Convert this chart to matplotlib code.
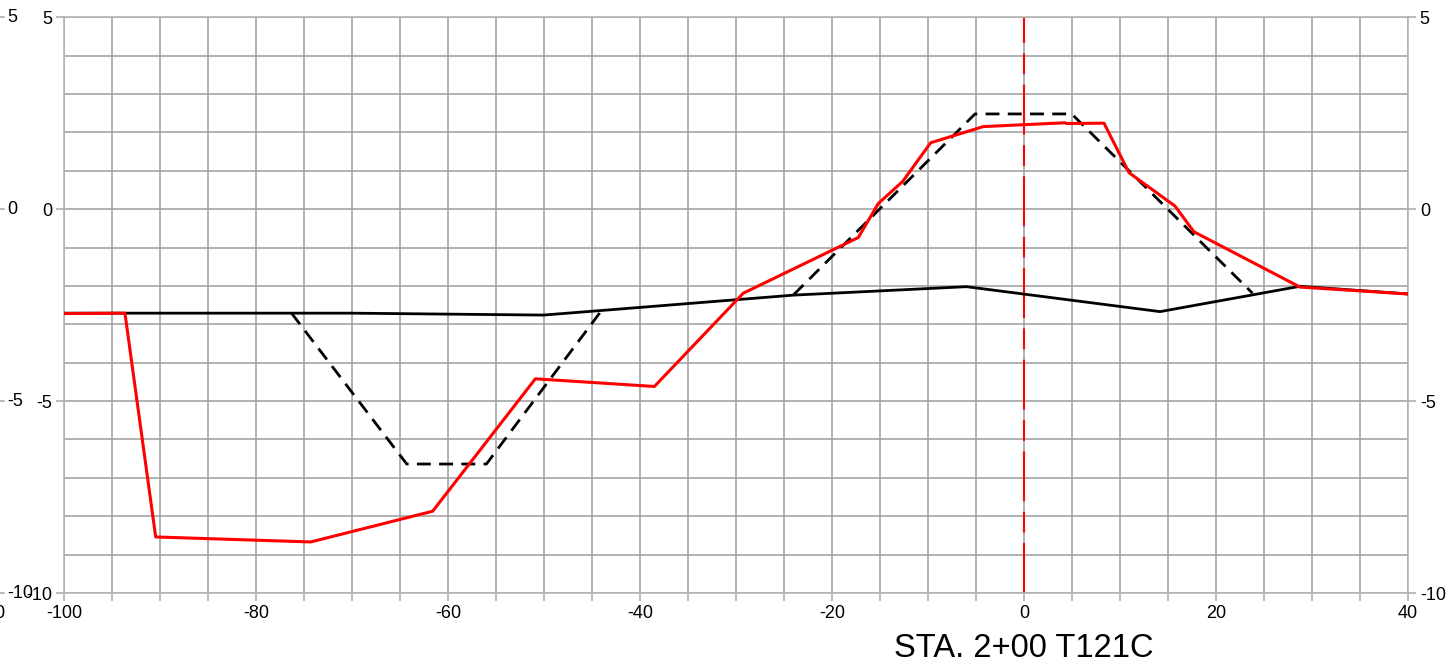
import matplotlib
matplotlib.use('Agg')
import matplotlib.pyplot as plt
from matplotlib.ticker import MultipleLocator, FixedLocator
import matplotlib.transforms as mtrans
from matplotlib.lines import Line2D

plt.rcParams['font.family'] = ['Liberation Sans', 'DejaVu Sans']
plt.rcParams['axes.unicode_minus'] = False

# Existing ground (solid black)
ground_x = [-100, -70, -50.07, -44.0, -24.0, -6.0, 14.17, 28.75, 40]
ground_y = [-2.71, -2.71, -2.76, -2.64, -2.24, -2.02, -2.67, -2.01, -2.21]

# Design section (dashed black), two pieces
design1_x = [-76.3, -64.3, -56.0, -44.0]
design1_y = [-2.71, -6.64, -6.64, -2.64]
design2_x = [-24.0, -5.1, 4.97, 23.8]
design2_y = [-2.23, 2.48, 2.48, -2.19]

# Surveyed section (red)
survey_x = [-100, -93.65, -90.45, -74.3, -61.6, -50.9, -38.5, -29.24, -17.26,
            -15.17, -12.64, -9.72, -4.24, 4.27, 4.45, 8.33, 10.94, 15.73, 17.7,
            28.75, 40]
survey_y = [-2.72, -2.71, -8.54, -8.67, -7.87, -4.42, -4.62, -2.19, -0.74,
            0.15, 0.72, 1.73, 2.15, 2.25, 2.23, 2.24, 0.95, 0.08, -0.59,
            -2.03, -2.21]

x_ticks = [-100, -80, -60, -40, -20, 0, 20, 40]
y_ticks = [-10, -5, 0, 5]
title = 'STA. 2+00 T121C'
centerline_x = 0

W, H = 1450, 662
fig = plt.figure(figsize=(W / 100, H / 100), dpi=100)
ax = fig.add_axes([64 / W, 1 - 593 / H, (1408 - 64) / W, (593 - 17.2) / H])
ax.set_xlim(-100, 40)
ax.set_ylim(-10, 5)

grid_c = '#9c9c9c'
ax.xaxis.set_major_locator(FixedLocator(x_ticks))
ax.xaxis.set_minor_locator(MultipleLocator(5))
ax.yaxis.set_major_locator(FixedLocator(y_ticks))
ax.yaxis.set_minor_locator(MultipleLocator(1))
ax.grid(True, which='both', color=grid_c, lw=1.1, zorder=0)
ax.set_axisbelow(True)
for s in ax.spines.values():
    s.set_color('#b4b4b4')
    s.set_linewidth(1.2)

ax.tick_params(axis='x', which='both', direction='out', length=5.5, width=1.1,
               color='#a8a8a8', labelsize=13, pad=3)
ax.tick_params(axis='y', which='major', direction='out', length=5.5, width=1.1,
               color='#a8a8a8', labelsize=13, pad=3)
ax.tick_params(axis='y', which='minor', length=0)

ax2 = ax.twinx()
ax2.set_ylim(-10, 5)
ax2.yaxis.set_major_locator(FixedLocator(y_ticks))
ax2.tick_params(axis='y', which='major', direction='out', length=5.5, width=1.1,
                color='#a8a8a8', labelsize=13, pad=3)
ax2.tick_params(axis='y', which='minor', length=0)
for s in ax2.spines.values():
    s.set_visible(False)

ax.plot(ground_x, ground_y, color='black', lw=2.0, zorder=3)
ax.plot(design1_x, design1_y, color='black', lw=2.0, ls=(0, (5.0, 3.0)), zorder=3)
ax.plot(design2_x, design2_y, color='black', lw=2.0, ls=(0, (5.0, 3.0)), zorder=3)
ax.plot(survey_x, survey_y, color='#ff0000', lw=2.2, zorder=4)
ax.axvline(centerline_x, color='#ff0000', lw=1.5, ls=(0, (24, 5, 10, 5)), zorder=2)

blend = mtrans.blended_transform_factory(ax.transData, fig.transFigure)
ax.text(centerline_x, (H - 657) / H, title, transform=blend, ha='center',
        va='baseline', fontsize=23.5, color='black')

# Partially visible labels of the neighbouring panel at the left edge
for v in y_ticks:
    yf = 1 - (17.2 + (5 - v) * 38.4) / H
    fig.text(7 / W, yf, str(v), ha='left', va='center', fontsize=13)
    fig.add_artist(Line2D([0, 4 / W], [yf, yf], transform=fig.transFigure,
                          color='#a8a8a8', lw=1.1))
fig.text(-4 / W, 1 - 613 / H, '40', ha='center', va='center', fontsize=13)

fig.savefig('out.png', dpi=100)
